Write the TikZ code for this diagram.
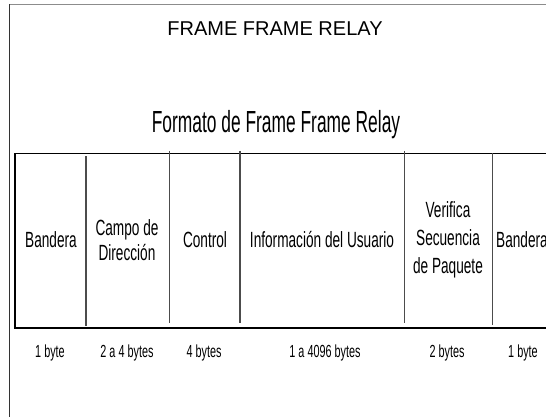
\documentclass[tikz,border=0pt]{standalone}
\usepackage{fontspec}
\setmainfont{Liberation Sans}
\newfontfamily\condfont[FakeStretch=0.62]{Liberation Sans}
\newfontfamily\xcondfont[FakeStretch=0.57]{Liberation Sans}
\usetikzlibrary{positioning}

\tikzset{
    cell/.style={font=\condfont\fontsize{22}{25}\selectfont, align=center, inner sep=0pt},
    bytes/.style={font=\condfont\fontsize{17.5}{20}\selectfont, inner sep=0pt, anchor=base},
    divider/.style={line width=1.1pt, black!70},
    edge/.style={line width=1.1pt, black},
}

\begin{document}
\begin{tikzpicture}[x=1pt,y=-1pt]
    \useasboundingbox (0,0) rectangle (546,417);
    \clip (0,0) rectangle (546,417);
    % page frame (top and left only)
    \draw[line width=1pt, black!45] (9,4.5) -- (546,4.5);
    \draw[line width=1pt, black!80] (9,4.5) -- (9,417);

    % titles
    \node[anchor=base, font=\fontsize{20}{24}\selectfont, inner sep=0pt] (titulo) at (275,36) {FRAME FRAME RELAY};
    \node[anchor=base, font=\xcondfont\fontsize{30.5}{36}\selectfont, inner sep=0pt] (formato) at (276,133) {Formato de Frame Frame Relay};

    % frame of the table, open to the right
    \draw[edge] (560,153.5) -- (15,153.5) -- (15,328) -- (560,328);
    % dividers between the fields
    \foreach \x/\top/\bot in {86/156/326, 169.5/151/323, 240/151/323, 404.7/151/323, 492.7/153/325} {
        \draw[divider] (\x,\top) -- (\x,\bot);
    }

    % field names
    \node[cell] (bandera) at (51,240) {Bandera};
    \node[cell] (campo) at (127,240) {Campo de\\Dirección};
    \node[cell] (control) at (205,240) {Control};
    \node[cell] (info) at (322,240) {Información del Usuario};
    \node[cell] (fcs) at (448,240) {Verifica\\[3pt]Secuencia\\[3pt]de Paquete};
    \node[cell, anchor=west] (bandera2) at (496,240) {Bandera};

    % field lengths
    \foreach \x/\txt/\name in {50/1 byte/la, 127/2 a 4 bytes/lb, 204/4 bytes/lc, 325/1 a 4096 bytes/ld, 447/2 bytes/le, 523/1 byte/lf} {
        \node[bytes] (\name) at (\x,357) {\txt};
    }
\end{tikzpicture}
\end{document}
